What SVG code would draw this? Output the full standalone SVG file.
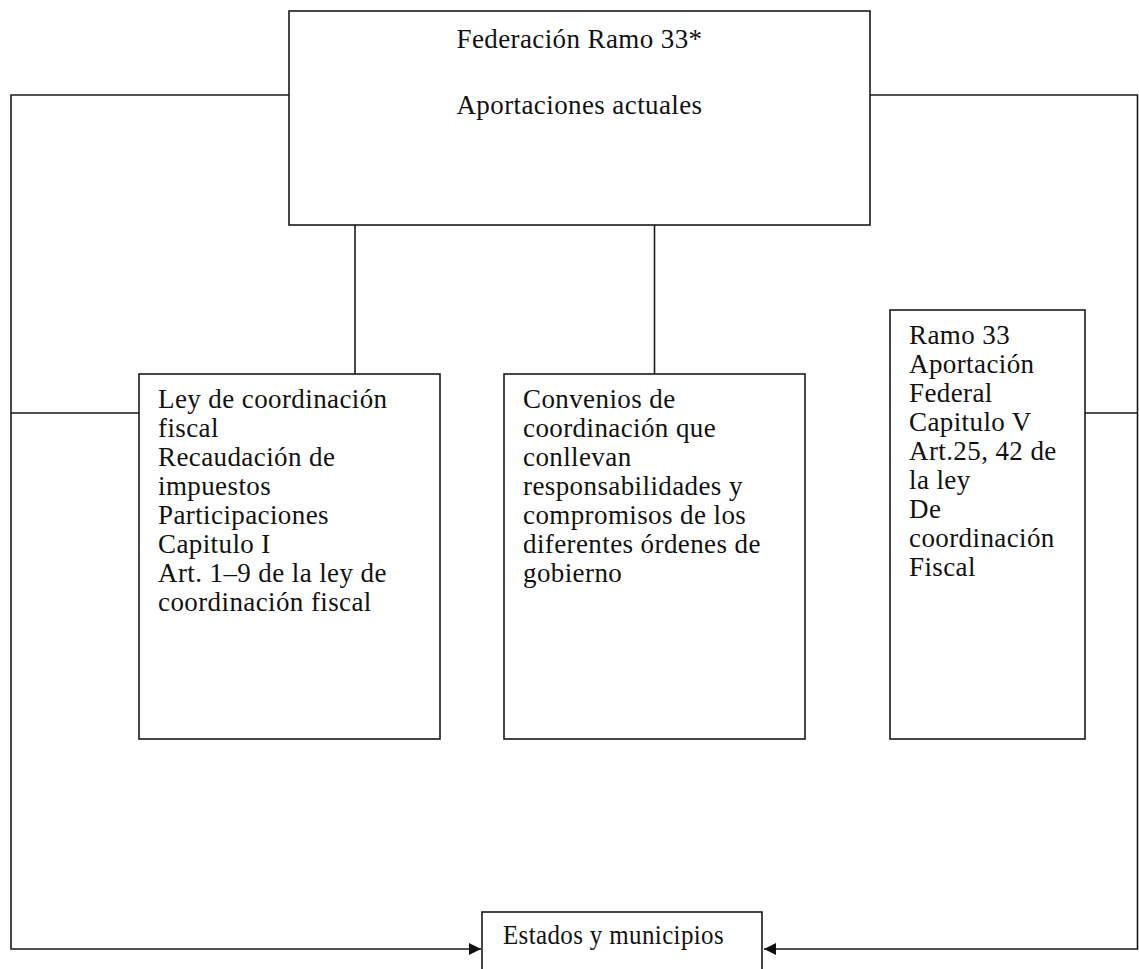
<svg xmlns="http://www.w3.org/2000/svg" width="1139" height="969" viewBox="0 0 1139 969">
<style>
.box{fill:#fff;stroke:#1a1a1a;stroke-width:1.6}
.ln{fill:none;stroke:#1a1a1a;stroke-width:1.6}
text{font-family:"Liberation Serif","Times New Roman",serif;font-size:27px;letter-spacing:0.4px;fill:#111}
</style>
<defs>
<marker id="ah" viewBox="0 0 12 12" refX="12" refY="6" markerWidth="12" markerHeight="12" markerUnits="userSpaceOnUse" orient="auto">
<path d="M0,0 L12,6 L0,12 Z" fill="#111"/>
</marker>
</defs>
<rect width="1139" height="969" fill="#fff"/>
<g id="connectors">
<polyline class="ln" points="289,95 11,95 11,949 481,949" marker-end="url(#ah)"/>
<polyline class="ln" points="870,95 1137.5,95 1137.5,949 764,949" marker-end="url(#ah)"/>
<line class="ln" x1="11" y1="413" x2="139" y2="413"/>
<line class="ln" x1="1085" y1="413" x2="1137.5" y2="413"/>
<line class="ln" x1="355" y1="225" x2="355" y2="374"/>
<line class="ln" x1="654.5" y1="225" x2="654.5" y2="374"/>
</g>
<g id="federacion">
<rect class="box" x="289" y="11" width="581" height="214"/>
<text x="579.5" y="48" text-anchor="middle">Federación Ramo 33*</text>
<text x="579.5" y="114" text-anchor="middle">Aportaciones actuales</text>
</g>
<g id="ley">
<rect class="box" x="139" y="374" width="301" height="365"/>
<text x="158" y="408">Ley de coordinación</text>
<text x="158" y="437">fiscal</text>
<text x="158" y="466">Recaudación de</text>
<text x="158" y="495">impuestos</text>
<text x="158" y="524">Participaciones</text>
<text x="158" y="553">Capitulo I</text>
<text x="158" y="582">Art. 1–9 de la ley de</text>
<text x="158" y="611">coordinación fiscal</text>
</g>
<g id="convenios">
<rect class="box" x="504" y="374" width="301" height="365"/>
<text x="523" y="408">Convenios de</text>
<text x="523" y="437">coordinación que</text>
<text x="523" y="466">conllevan</text>
<text x="523" y="495">responsabilidades y</text>
<text x="523" y="524">compromisos de los</text>
<text x="523" y="553">diferentes órdenes de</text>
<text x="523" y="582">gobierno</text>
</g>
<g id="ramo33">
<rect class="box" x="890" y="310" width="195" height="429"/>
<text x="909" y="344">Ramo 33</text>
<text x="909" y="373">Aportación</text>
<text x="909" y="402">Federal</text>
<text x="909" y="431">Capitulo V</text>
<text x="909" y="460">Art.25, 42 de</text>
<text x="909" y="489">la ley</text>
<text x="909" y="518">De</text>
<text x="909" y="547">coordinación</text>
<text x="909" y="576">Fiscal</text>
</g>
<g id="estados">
<rect class="box" x="482" y="912" width="280" height="70"/>
<text x="503" y="944" textLength="221" lengthAdjust="spacingAndGlyphs">Estados y municipios</text>
</g>
</svg>
